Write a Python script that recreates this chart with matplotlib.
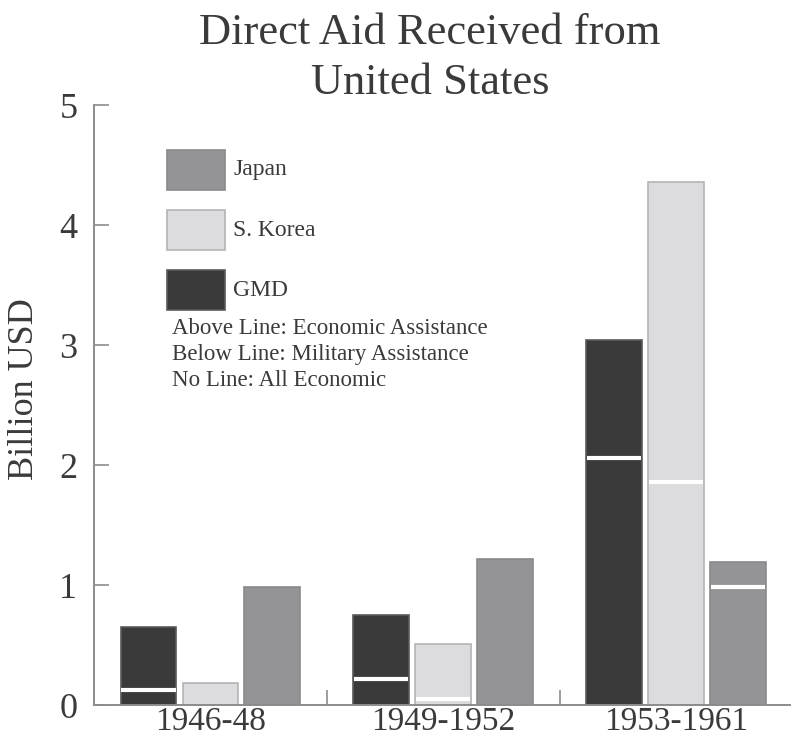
import numpy as np
import matplotlib.pyplot as plt
from matplotlib.patches import Rectangle

periods = ["1946-48", "1949-1952", "1953-1961"]
countries = ["GMD", "S. Korea", "Japan"]
# total aid (billion USD) per country, per period
totals = {
    "GMD": [0.65, 0.75, 3.04],
    "S. Korea": [0.18, 0.51, 4.36],
    "Japan": [0.98, 1.22, 1.19],
}
# military share (below the white line); None = all economic
military = {
    "GMD": [0.125, 0.22, 2.06],
    "S. Korea": [None, 0.05, 1.86],
    "Japan": [None, None, 0.98],
}
colors = {"GMD": "#3a3a3a", "S. Korea": "#dcdcde", "Japan": "#949496"}
edges = {"GMD": "#5a5a5a", "S. Korea": "#b4b4b6", "Japan": "#8a8a8c"}
legend_order = ["Japan", "S. Korea", "GMD"]
note_lines = ["Above Line: Economic Assistance",
              "Below Line: Military Assistance",
              "No Line: All Economic"]

serif = "Liberation Serif"
txt = "#3a3a3a"
axc = "#8c8c8c"

fig = plt.figure(figsize=(7.92, 7.40), dpi=100)
ax = fig.add_axes([94 / 792, 35 / 740, 696 / 792, 600 / 740])

x = np.arange(len(periods))
width = 0.24
offset = 0.266
for i, c in enumerate(countries):
    pos = x + (i - 1) * offset
    ax.bar(pos, totals[c], width=width, color=colors[c], edgecolor=edges[c],
           linewidth=1.2, zorder=2)
    for p, m in zip(pos, military[c]):
        if m is not None:
            ax.plot([p - width / 2 + 0.004, p + width / 2 - 0.004], [m, m],
                    color="white", lw=3, solid_capstyle="butt", zorder=3)

ax.set_xlim(-0.5, 2.488)
ax.set_ylim(0, 5)
ax.set_xticks(x)
ax.set_xticklabels(periods, fontfamily=serif, fontsize=24, color=txt)
ax.set_xticks([0.5, 1.5], minor=True)
ax.set_yticks(range(6))
ax.set_yticklabels([str(v) for v in range(6)], fontfamily=serif, fontsize=26, color=txt)
ax.tick_params(axis="x", which="major", length=0, pad=1)
ax.tick_params(axis="x", which="minor", direction="in", length=11, color=axc, width=1.2)
ax.tick_params(axis="y", direction="in", length=11, color=axc, width=1.2, pad=12)

for s in ["top", "right"]:
    ax.spines[s].set_visible(False)
for s in ["left", "bottom"]:
    ax.spines[s].set_color(axc)
    ax.spines[s].set_linewidth(1.4)

ax.set_ylabel("Billion USD", fontfamily=serif, fontsize=26, color=txt)
ax.yaxis.set_label_coords(-0.076, 0.527)

# legend drawn as squares + labels in axes fraction coordinates
trans = ax.transAxes
for k, c in enumerate(legend_order):
    y0 = (705 - 190 - k * 60) / 600
    ax.add_patch(Rectangle(((167 - 94) / 696, y0), 58 / 696, 40 / 600,
                           transform=trans, facecolor=colors[c],
                           edgecolor=edges[c], lw=1.2, zorder=4))
    ax.text((233 - 94) / 696, y0 + 20 / 600, c, transform=trans,
            fontfamily=serif, fontsize=17, color=txt, va="center")
for k, line in enumerate(note_lines):
    ax.text((172 - 94) / 696, (705 - 328 - k * 26.5) / 600, line, transform=trans,
            fontfamily=serif, fontsize=16.5, color=txt, va="center")

fig.text(430 / 792, 1 - 58 / 740, "Direct Aid Received from\nUnited States",
         ha="center", va="center", fontfamily=serif, fontsize=32, color=txt,
         linespacing=1.3)

fig.savefig("out.png", dpi=100)
